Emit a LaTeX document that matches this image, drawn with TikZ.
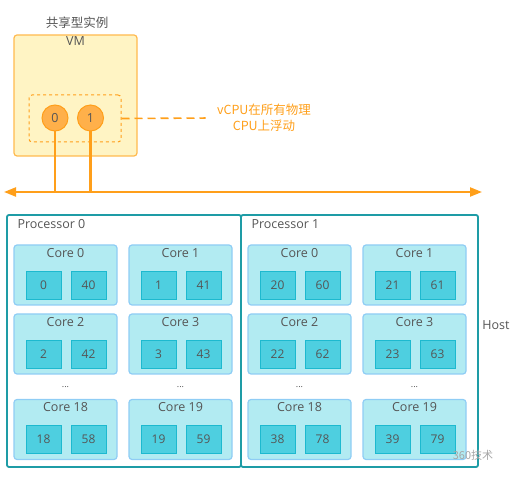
\documentclass[tikz,border=0pt]{standalone}
\usepackage{fontspec}
\setmainfont{Open Sans}
\newfontfamily\cjk{Noto Sans CJK SC}
\usepackage{tikz}
\usetikzlibrary{arrows.meta, positioning, calc}
\definecolor{vmorange}{HTML}{FF9F1A}
\definecolor{vmfill}{HTML}{FFF4C4}
\definecolor{vmedge}{HTML}{FFBA4F}
\definecolor{vcpufill}{HTML}{FFB04A}
\definecolor{proctea}{HTML}{1E9CA6}
\definecolor{corefill}{HTML}{B2EBF2}
\definecolor{coreedge}{HTML}{8FCDF5}
\definecolor{thrfill}{HTML}{4ECFE0}
\definecolor{thredge}{HTML}{1DB9CF}
\definecolor{txtgray}{HTML}{555555}

\begin{document}
\begin{tikzpicture}[x=1pt, y=-1pt,
    font=\fontsize{12.5}{14}\selectfont, text=txtgray,
    vmbox/.style={rectangle, rounded corners=3pt, minimum width=123pt, minimum height=121pt, draw=vmedge, fill=vmfill, line width=1.2pt},
    group/.style={rectangle, rounded corners=3pt, minimum width=92pt, minimum height=47pt, draw=vmorange, dashed, line width=1pt},
    vcpu/.style={circle, minimum size=26pt, inner sep=0pt, draw=vmorange, fill=vcpufill, line width=1pt},
    proc/.style={rectangle, rounded corners=2pt, minimum height=252pt, draw=proctea, line width=1.8pt},
    core/.style={rectangle, rounded corners=3pt, minimum width=103pt, minimum height=60pt, draw=coreedge, fill=corefill, line width=1.2pt},
    thread/.style={rectangle, minimum width=35pt, minimum height=28pt, draw=thredge, fill=thrfill, line width=0.9pt},
    bus/.style={draw=vmorange, line width=2.2pt},
    arrow/.style={bus, {Triangle[length=12pt,width=9pt]}-{Triangle[length=12pt,width=9pt]}}
]
\useasboundingbox (0,0) rectangle (512,478);

    % VM side
    \node[font=\cjk\fontsize{12.5}{14}\selectfont] (title) at (77,23) {共享型实例};
    \node[vmbox] (vm) at (75.5,95.5) {};
    \node[anchor=north, inner sep=2pt] (vmname) at (vm.north) {VM};
    \node[group] (group) at (75,118.5) {};
    \node[vcpu] (v0) at (55,118) {0};
    \node[vcpu] (v1) at (90.5,118) {1};
    \node[font=\cjk\fontsize{12.5}{16}\selectfont, text=vmorange, align=center] (note) at (264,118) {vCPU在所有物理\\CPU上浮动};

    \draw[vmorange, dashed, dash pattern=on 8pt off 5pt, line width=1.6pt, shorten >=8pt] (group.east) -- (note.west);

    % bus
    \coordinate (busL) at (4,192);
    \coordinate (busR) at (482,192);
    \draw[arrow] (busL) -- (busR);
    \draw[bus] (v0) -- (v0 |- busL);
    \draw[bus] (v1) -- (v1 |- busL);

    % host
    \node[proc, minimum width=234pt] (p0) at (124,341) {};
    \node[proc, minimum width=237pt] (p1) at (359.5,341) {};
    \node[anchor=west] (p0name) at (14,224) {Processor 0};
    \node[anchor=west] (p1name) at (248,224) {Processor 1};
    \node (host) at (496,325) {Host};

    \foreach \p/\dx/\off in {0/0/0, 1/234/20} {
      \foreach \c/\col/\y in {0/0/275, 1/1/275, 2/0/344, 3/1/344, 18/0/429.5, 19/1/429.5} {
        \pgfmathtruncatemacro{\ta}{\c+\off}
        \pgfmathtruncatemacro{\tb}{\c+\off+40}
        \node[core] (c\p-\c) at (65.5+\dx+115*\col,\y) {};
        \node (cname\p-\c) at ($(c\p-\c.center)+(0,-22)$) {Core \c};
        \node[thread, font=\fontsize{12}{14}\selectfont] (t\p-\c-a) at ($(c\p-\c.center)+(-22,10)$) {\ta};
        \node[thread, font=\fontsize{12}{14}\selectfont] (t\p-\c-b) at ($(c\p-\c.center)+(23,10)$) {\tb};
      }
      \node[font=\fontsize{9}{9}\selectfont] (dots\p-a) at (65.5+\dx,387) {...};
      \node[font=\fontsize{9}{9}\selectfont] (dots\p-b) at (180.5+\dx,387) {...};
    }

    \node[font=\cjk\fontsize{11}{12}\selectfont, text=black!35] (mark) at (473,455) {360技术};

\end{tikzpicture}
\end{document}
